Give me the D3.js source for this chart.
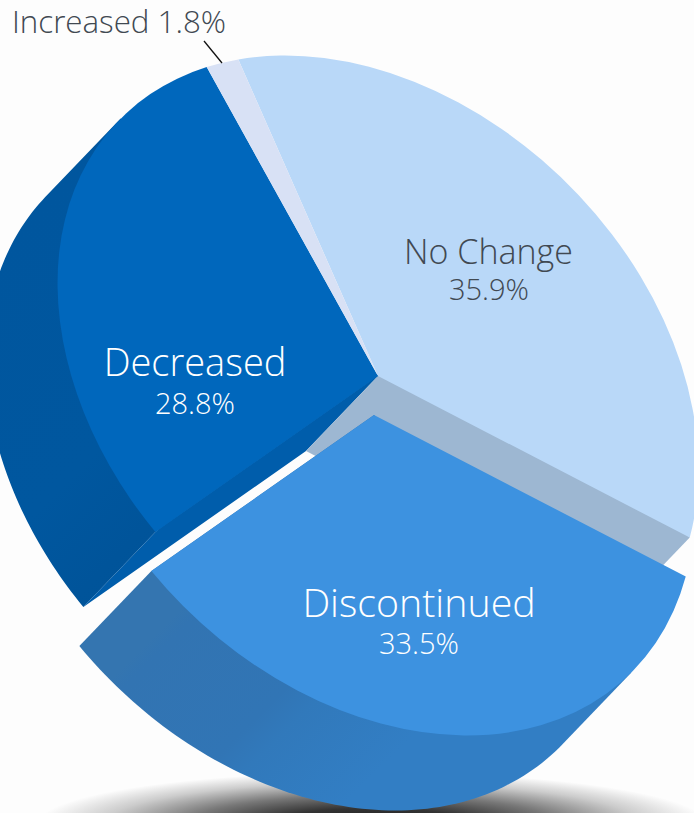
<!DOCTYPE html>
<html>
<head>
<meta charset="utf-8">
<script src="https://cdnjs.cloudflare.com/ajax/libs/d3/7.8.5/d3.min.js"></script>
<style>
  html, body { margin: 0; padding: 0; background: #fdfdfd; }
  svg { display: block; }
  text { font-family: "Open Sans", sans-serif; font-weight: 300; text-anchor: middle; }
</style>
</head>
<body>
<svg id="chart" width="694" height="813"></svg>
<script>
// order follows the pie clockwise from the top edge of No Change
const categories = ["No Change", "Discontinued", "Decreased", "Increased"];
const shares = [35.9, 33.5, 28.8, 1.8];
const shareLabels = ["35.9%", "33.5%", "28.8%", "1.8%"];

const topColours = ["#b9d8f8", "#3d92e0", "#0067bc", "#d8e1f5"];
const cutColours = ["#9db7d2", null, "#005dab", null];

const centre = { x: 378, y: 376 };
const depth = { x: -72, y: 75 };        // how far the wall is pushed down the tilt
const explode = { x: -4, y: 39 };       // Discontinued slice is pulled out
const RX = 364, RY = 270;               // ellipse semi axes, major axis runs at 45deg
const R = 1000;                         // arc drawn at this radius, then squashed by the matrix
const S = Math.SQRT1_2;
const START_DEG = -62.4;

const svg = d3.select("#chart");
const defs = svg.append("defs");

// same axes as the matrix below, so walls and tops line up
function project(a) {
    const cx = Math.sin(a), cy = -Math.cos(a);
    return [RX * S * cx - RY * S * cy, RX * S * cx + RY * S * cy];
}

const pie = d3.pie().sort(null).value(d => d)
    .startAngle(START_DEG * Math.PI / 180)
    .endAngle((START_DEG + 360) * Math.PI / 180);
const slices = pie(shares);

const arc = d3.arc().innerRadius(0).outerRadius(R);
const line = d3.line();

const matrix = `matrix(${RX * S / R},${RX * S / R},${-RY * S / R},${RY * S / R},0,0)`;

// wall gradients, banded along the major axis
function wallGradient(id, stops) {
    const g = defs.append("linearGradient").attr("id", id)
        .attr("gradientUnits", "userSpaceOnUse")
        .attr("x1", -RX * S).attr("y1", -RX * S)
        .attr("x2", RX * S).attr("y2", RX * S);
    stops.forEach(s => g.append("stop").attr("offset", s[0]).attr("stop-color", s[1]));
}
wallGradient("wall-decreased", [[0, "#00569e"], [0.3, "#00579f"], [0.42, "#00549a"], [0.6, "#005296"], [1, "#005296"]]);
wallGradient("wall-discontinued", [[0, "#3475b0"], [0.5, "#3475b0"], [0.52, "#3274b2"], [0.68, "#3175b5"], [0.72, "#3179bb"], [0.85, "#327ec4"], [1, "#327ec4"]]);

// shadow under the pie
const shadow = defs.append("radialGradient").attr("id", "shadow");
[[0, "#1c1c1c"], [0.3, "#333333"], [0.55, "#777777"], [0.8, "#cccccc"], [1, "#fdfdfd"]]
    .forEach(s => shadow.append("stop").attr("offset", s[0]).attr("stop-color", s[1]));
svg.append("ellipse")
    .attr("cx", 372).attr("cy", 824)
    .attr("rx", 335).attr("ry", 52)
    .attr("fill", "url(#shadow)");

// only the rim between the two tangents of the push direction shows a wall,
// the rest of the shape hides under the top face
function wallPath(d) {
    const a0 = Math.max(d.startAngle, Math.PI / 2);
    const a1 = Math.min(d.endAngle, Math.PI * 3 / 2);
    const lower = d3.range(0, 81)
        .map(i => project(a0 + (a1 - a0) * i / 80))
        .map(p => [p[0] + depth.x, p[1] + depth.y]);
    return line(lower.concat([project(a1), [0, 0], project(a0)])) + "Z";
}

// flat face along the cut edge, tucked a little under the top so no seam shows
function cutPath(a) {
    const p = project(a);
    return line([
        [-depth.x * 0.02, -depth.y * 0.02],
        [p[0] * 0.98 - depth.x * 0.02, p[1] * 0.98 - depth.y * 0.02],
        p,
        [p[0] + depth.x, p[1] + depth.y],
        [depth.x, depth.y],
        [0, 0]
    ]) + "Z";
}

const main = svg.append("g").attr("transform", `translate(${centre.x},${centre.y})`);

// Decreased wall first, everything else sits over it
main.append("path").attr("d", wallPath(slices[2])).attr("fill", "url(#wall-decreased)");
main.append("path").attr("d", cutPath(slices[2].startAngle)).attr("fill", cutColours[2]);
main.append("path").attr("d", cutPath(slices[0].endAngle)).attr("fill", cutColours[0]);

[0, 2, 3].forEach(i => {
    main.append("path")
        .attr("class", "slice")
        .attr("transform", matrix)
        .attr("d", arc(slices[i]))
        .attr("fill", topColours[i]);
});

const out = svg.append("g")
    .attr("transform", `translate(${centre.x + explode.x},${centre.y + explode.y})`);
out.append("path").attr("d", wallPath(slices[1])).attr("fill", "url(#wall-discontinued)");
out.append("path").attr("class", "slice")
    .attr("transform", matrix)
    .attr("d", arc(slices[1]))
    .attr("fill", topColours[1]);

// labels
function label(x, y, size, colour, str) {
    svg.append("text").attr("x", x).attr("y", y)
        .attr("font-size", size).attr("fill", colour).text(str);
}
label(488.5, 264, 34, "#414952", categories[0]);
label(489, 300, 29, "#414952", shareLabels[0]);
label(419, 617, 39.3, "#ffffff", categories[1]);
label(419, 654, 29, "#ffffff", shareLabels[1]);
label(195, 376, 38, "#ffffff", categories[2]);
label(195, 414, 29, "#ffffff", shareLabels[2]);
label(119, 33, 31.3, "#414952", categories[3] + " " + shareLabels[3]);

// leader for the thin slice
svg.append("line")
    .attr("x1", 204).attr("y1", 41).attr("x2", 222).attr("y2", 63)
    .attr("stroke", "#111111").attr("stroke-width", 1.3);
</script>
</body>
</html>
